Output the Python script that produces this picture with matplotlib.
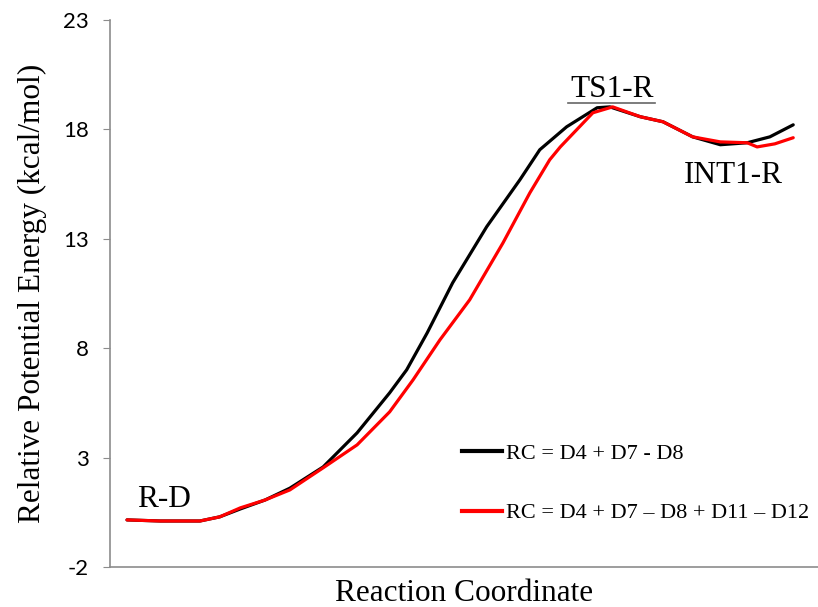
import matplotlib.pyplot as plt
from matplotlib.lines import Line2D

# coordenada de reação (unidades arbitrárias) e energia em kcal/mol
x_rc1 = [2.4, 7.1, 12.7, 15.5, 18.4, 21.9, 25.4, 30.1, 34.9, 39.5, 41.9, 44.8, 48.4,
         53.2, 57.9, 60.7, 64.5, 68.8, 70.6, 74.9, 78.1, 82.3, 86.2, 90.0, 93.2, 96.5]
e_rc1 = [0.15, 0.10, 0.10, 0.29, 0.65, 1.06, 1.60, 2.57, 4.13, 5.96, 7.01, 8.70, 10.99,
         13.55, 15.70, 17.07, 18.12, 18.99, 19.03, 18.58, 18.35, 17.66, 17.30, 17.39, 17.66, 18.21]

x_rc2 = [2.4, 7.1, 12.7, 15.5, 18.4, 21.9, 25.4, 30.1, 34.9, 39.5, 42.8, 46.6, 50.8, 55.5,
         59.3, 62.1, 63.6, 68.2, 71.0, 74.9, 78.1, 82.3, 86.2, 90.0, 91.4, 93.9, 96.5]
e_rc2 = [0.15, 0.10, 0.10, 0.29, 0.70, 1.06, 1.52, 2.53, 3.58, 5.09, 6.55, 8.38, 10.21, 12.81,
         15.10, 16.61, 17.20, 18.76, 19.03, 18.58, 18.35, 17.66, 17.43, 17.39, 17.20, 17.34, 17.62]

rotulos = ['RC = D4 + D7 - D8', 'RC = D4 + D7 \u2013 D8 + D11 \u2013 D12']
yticks = [-2, 3, 8, 13, 18, 23]

serif = 'Liberation Serif'
cinza = '#8c8c8c'

fig = plt.figure(figsize=(8.18, 6.07), dpi=100)
ax = fig.add_axes([0.1345, 0.066, 0.8655, 0.901])

ax.plot(x_rc1, e_rc1, color='black', lw=2.3, solid_capstyle='round', solid_joinstyle='round')
ax.plot(x_rc2, e_rc2, color='#ff0000', lw=2.3, solid_capstyle='round', solid_joinstyle='round')

ax.set_xlim(0, 100)
ax.set_ylim(-2, 23)
ax.set_yticks(yticks)
ax.set_yticklabels([str(t) for t in yticks], fontsize=16, family='Lato')
ax.set_xticks([])
ax.tick_params(axis='y', direction='out', length=5, color=cinza, pad=10)

for lado in ['top', 'right']:
    ax.spines[lado].set_visible(False)
for lado in ['left', 'bottom']:
    ax.spines[lado].set_color(cinza)
    ax.spines[lado].set_linewidth(1.2)

ax.set_ylabel('Relative Potential Energy (kcal/mol)', fontsize=22.5, family=serif, labelpad=12)
ax.set_xlabel('Reaction Coordinate', fontsize=22.5, family=serif, labelpad=9)

# rótulos dos pontos estacionários
ax.text(7.6, 0.74, 'R-D', fontsize=22.5, family=serif, ha='center', va='baseline')
ax.text(70.9, 19.49, 'TS1-R', fontsize=22.5, family=serif, ha='center', va='baseline')
ax.plot([64.7, 77.0], [19.22, 19.22], color='#666666', lw=1.2)
ax.text(88.1, 15.56, 'INT1-R', fontsize=22.5, family=serif, ha='center', va='baseline')

handles = [Line2D([], [], color='black', lw=3), Line2D([], [], color='#ff0000', lw=3)]
ax.legend(handles, rotulos, loc='upper left', bbox_to_anchor=(0.497, 0.226),
          frameon=False, prop={'family': serif, 'size': 16}, handlelength=1.8,
          handletextpad=0.2, labelspacing=1.75, borderpad=0, borderaxespad=0)

fig.savefig('out.png', dpi=100)
